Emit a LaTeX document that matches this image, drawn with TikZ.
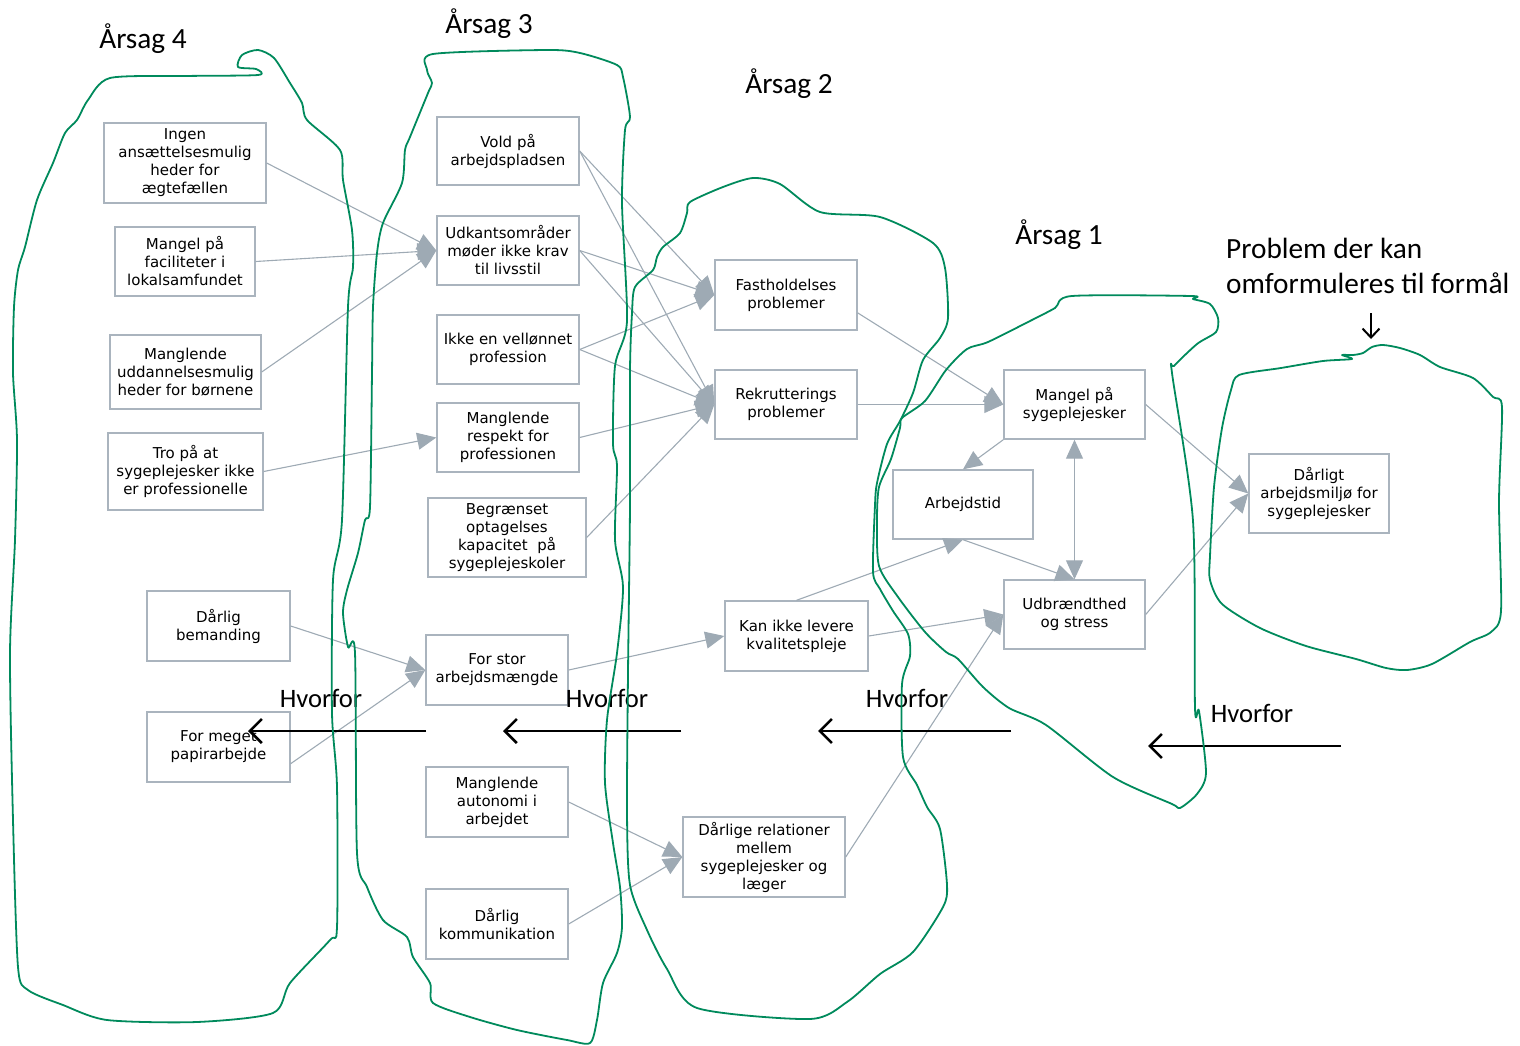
\documentclass[tikz,border=0pt]{standalone}
\usepackage{fontspec}
\setmainfont{DejaVu Sans}
\newfontfamily\calibrifont{Carlito}
\usepackage{tikz}
\usetikzlibrary{arrows.meta}
\definecolor{boxgray}{RGB}{170,180,190}
\definecolor{linkgray}{RGB}{158,170,180}
\definecolor{handgreen}{RGB}{0,138,92}

\begin{document}
\begin{tikzpicture}[x=1pt, y=-1pt,
    >={Triangle[length=19pt, width=17pt]},
    cause/.style={draw=boxgray, line width=1.4pt, fill=white, align=center, inner sep=2pt,
        font=\fontsize{15}{18}\selectfont, execute at begin node={\vspace*{5pt}}},
    link/.style={draw=linkgray, line width=1.1pt, ->},
    title/.style={inner sep=0pt, font=\calibrifont\fontsize{29.3}{35}\selectfont},
    why/.style={inner sep=0pt, font=\calibrifont\fontsize{26.6}{30}\selectfont},
    whyarrow/.style={line width=2.6pt, -{Straight Barb[length=12pt, width=24pt]}},
    hand/.style={draw=handgreen, line width=1.8pt, line join=round}]
    \useasboundingbox (0,0) rectangle (1520,1046);

    % Titles
    \node[title] (aarsag4) at (143,39) {Årsag 4};
    \node[title] (aarsag3) at (489,24) {Årsag 3};
    \node[title] (aarsag2) at (789,84) {Årsag 2};
    \node[title] (aarsag1) at (1059,235) {Årsag 1};
    \node[title, anchor=west, align=left] (problem) at (1226,266) {Problem der kan\\omformuleres til formål};

    % Aarsag 4
    \node[cause, minimum width=162, minimum height=80] (ingen) at (185,163) {Ingen\\ansættelsesmulig\\heder for\\ægtefællen};
    \node[cause, minimum width=140, minimum height=69] (faciliteter) at (185,261.5) {Mangel på\\faciliteter i\\lokalsamfundet};
    \node[cause, minimum width=151, minimum height=74] (boern) at (185.5,372) {Manglende\\uddannelsesmulig\\heder for børnene};
    \node[cause, minimum width=155, minimum height=77] (tro) at (185.5,471.5) {Tro på at\\sygeplejesker ikke\\er professionelle};
    \node[cause, minimum width=143, minimum height=70] (bemanding) at (218.5,626) {Dårlig\\bemanding};
    \node[cause, minimum width=143, minimum height=70] (papir) at (218.5,747) {For meget\\papirarbejde};

    % Aarsag 3
    \node[cause, minimum width=142, minimum height=68] (vold) at (508,151) {Vold på\\arbejdspladsen};
    \node[cause, minimum width=142, minimum height=69] (udkant) at (508,250.5) {Udkantsområder\\møder ikke krav\\til livsstil};
    \node[cause, minimum width=142, minimum height=69] (loen) at (508,349.5) {Ikke en vellønnet\\profession};
    \node[cause, minimum width=142, minimum height=69] (respekt) at (508,437.5) {Manglende\\respekt for\\professionen};
    \node[cause, minimum width=158, minimum height=79] (optag) at (507,537.5) {Begrænset\\optagelses\\kapacitet\ \ på\\sygeplejeskoler};
    \node[cause, minimum width=142, minimum height=70] (forstor) at (497,670) {For stor\\arbejdsmængde};
    \node[cause, minimum width=142, minimum height=70] (autonomi) at (497,802) {Manglende\\autonomi i\\arbejdet};
    \node[cause, minimum width=142, minimum height=70] (kommunikation) at (497,924) {Dårlig\\kommunikation};

    % Aarsag 2
    \node[cause, minimum width=142, minimum height=70] (fast) at (786,295) {Fastholdelses\\problemer};
    \node[cause, minimum width=142, minimum height=69] (rekrut) at (786,404.5) {Rekrutterings\\problemer};
    \node[cause, minimum width=143, minimum height=70] (kvalitet) at (796.5,636) {Kan ikke levere\\kvalitetspleje};
    \node[cause, minimum width=162, minimum height=80] (relationer) at (764,857) {Dårlige relationer\\mellem\\sygeplejesker og\\læger};

    % Aarsag 1
    \node[cause, minimum width=141, minimum height=69] (mangel) at (1074.5,404.5) {Mangel på\\sygeplejesker};
    \node[cause, minimum width=140, minimum height=69] (arbejdstid) at (963,504.5) {Arbejdstid};
    \node[cause, minimum width=141, minimum height=69] (udb) at (1074.5,614.5) {Udbrændthed\\og stress};

    % Problem
    \node[cause, minimum width=140, minimum height=79] (miljoe) at (1319,493.5) {Dårligt\\arbejdsmiljø for\\sygeplejesker};

    % Links
    \draw[link] (ingen.east) -- (udkant.west);
    \draw[link] (faciliteter.east) -- (udkant.west);
    \draw[link] (boern.east) -- (udkant.west);
    \draw[link] (tro.east) -- (respekt.west);
    \draw[link] (bemanding.east) -- (forstor.west);
    \draw[link] (papir.-13) -- (forstor.west);
    \draw[link] (vold.east) -- (fast.west);
    \draw[link] (vold.east) -- (rekrut.west);
    \draw[link] (udkant.east) -- (fast.west);
    \draw[link] (udkant.east) -- (rekrut.west);
    \draw[link] (loen.east) -- (fast.west);
    \draw[link] (loen.east) -- (rekrut.west);
    \draw[link] (respekt.east) -- (rekrut.west);
    \draw[link] (optag.east) -- (rekrut.west);
    \draw[link] (forstor.east) -- (kvalitet.west);
    \draw[link] (autonomi.east) -- (relationer.west);
    \draw[link] (kommunikation.east) -- (relationer.west);
    \draw[link] (fast.-14) -- (mangel.west);
    \draw[link] (rekrut.east) -- (mangel.west);
    \draw[link] (mangel.south west) -- (arbejdstid.north);
    \draw[link, <->] (mangel.south) -- (udb.north);
    \draw[link] (kvalitet.north) -- (arbejdstid.south);
    \draw[link] (arbejdstid.south) -- (udb.north);
    \draw[link] (kvalitet.east) -- (udb.west);
    \draw[link] (relationer.east) -- (udb.west);
    \draw[link] (mangel.east) -- (miljoe.west);
    \draw[link] (udb.east) -- (miljoe.west);

    % Hvorfor arrows
    \coordinate (w4a) at (426,731);
    \coordinate (w4b) at (248,731);
    \coordinate (w3a) at (681,731);
    \coordinate (w3b) at (503,731);
    \coordinate (w2a) at (1011,731);
    \coordinate (w2b) at (818,731);
    \coordinate (w1a) at (1341,746);
    \coordinate (w1b) at (1148,746);
    \draw[whyarrow] (w4a) -- (w4b);
    \draw[whyarrow] (w3a) -- (w3b);
    \draw[whyarrow] (w2a) -- (w2b);
    \draw[whyarrow] (w1a) -- (w1b);
    \node[why] (why4) at (321,698) {Hvorfor};
    \node[why] (why3) at (607,698) {Hvorfor};
    \node[why] (why2) at (907,698) {Hvorfor};
    \node[why] (why1) at (1252,713) {Hvorfor};

    % Pointer to problem
    \coordinate (p1) at (1371,313);
    \coordinate (p2) at (1371,339);
    \draw[line width=2pt, -{Straight Barb[length=9pt, width=17pt]}] (p1) -- (p2);

    % Hand drawn groups
    \draw[hand] plot[smooth cycle, tension=0.45] coordinates {(110,78) (185,76) (258,75) (256,69) (238,67) (242,55) (258,50) (274,58) (290,83) (302,103) (307,120) (340,150) (343,180) (352,230) (353,267) (348,307) (342,520) (333,580) (332,713) (337,787) (337,927) (330,940) (290,983) (273,1013) (197,1022) (107,1020) (63,1005) (28,990) (18,967) (13,820) (10,653) (15,540) (17,440) (13,373) (14,307) (18,270) (25,247) (37,200) (53,163) (65,133) (77,120) (88,100)};
    \draw[hand] plot[smooth cycle, tension=0.45] coordinates {(433,54) (547,50) (580,53) (617,65) (623,77) (630,117) (625,130) (622,203) (627,321) (615,366) (613,444) (617,466) (615,540) (623,587) (617,653) (607,720) (605,783) (613,843) (620,887) (622,927) (617,953) (603,983) (597,1020) (590,1043) (567,1040) (517,1030) (470,1017) (433,1003) (430,983) (413,957) (407,937) (383,920) (367,887) (357,853) (355,653) (348,647) (343,613) (347,590) (358,553) (365,520) (370,507) (372,373) (373,307) (377,253) (383,223) (402,183) (405,150) (410,137) (428,93) (432,83) (427,70)};
    \draw[hand] plot[smooth cycle, tension=0.45] coordinates {(753,178) (780,184) (820,212) (880,217) (933,243) (945,268) (948,318) (940,338) (923,360) (913,393) (900,421) (887,444) (877,483) (875,505) (873,572) (880,589) (893,611) (908,634) (910,656) (902,684) (903,757) (917,785) (927,807) (940,829) (947,885) (943,907) (913,952) (880,974) (847,1002) (810,1019) (697,1008) (667,969) (647,930) (630,885) (627,812) (628,673) (630,505) (630,370) (632,313) (635,287) (653,270) (657,257) (663,247) (680,233) (687,213) (690,202) (723,187)};
    \draw[hand] plot[smooth cycle, tension=0.45] coordinates {(1072,296) (1191,296) (1193,299) (1210,304) (1218,318) (1216,332) (1197,344) (1174,366) (1172,373) (1193,521) (1195,708) (1199,711) (1206,773) (1197,794) (1180,808) (1172,804) (1113,777) (1046,725) (1009,708) (983,687) (958,659) (946,652) (925,632) (898,597) (879,566) (877,521) (879,487) (891,459) (900,428) (902,418) (925,401) (946,370) (967,349) (988,342) (1030,321) (1055,308)};
    \draw[hand] plot[smooth cycle, tension=0.45] coordinates {(1352,359) (1342,355) (1353,355) (1363,353) (1372,347) (1383,345) (1400,348) (1420,355) (1440,367) (1473,378) (1493,397) (1502,407) (1499,501) (1501,611) (1491,632) (1470,642) (1432,664) (1407,670) (1386,668) (1356,659) (1306,646) (1260,628) (1222,604) (1210,580) (1210,556) (1214,487) (1222,428) (1231,390) (1239,375) (1281,368) (1323,361)};
\end{tikzpicture}
\end{document}
